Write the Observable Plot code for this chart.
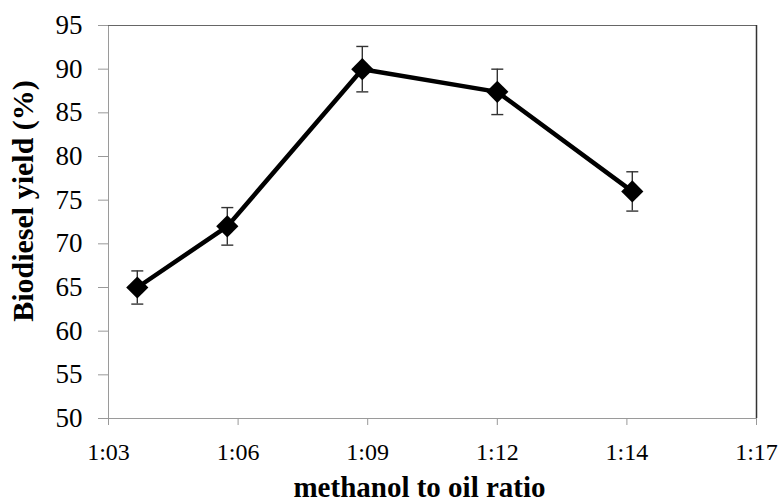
<!DOCTYPE html>
<html>
<head>
<meta charset="utf-8">
<script src="https://cdn.jsdelivr.net/npm/d3@7"></script>
<script src="https://cdn.jsdelivr.net/npm/@observablehq/plot@0.6"></script>
<style>
  html, body { margin: 0; padding: 0; background: white; }
  svg text { font-family: "Liberation Serif", "Times New Roman", serif; }
</style>
</head>
<body>
<div id="chart"></div>
<script>
// Methanol-to-oil ratio stored as Excel-style time values (minutes)
const ratioMinutes = [64, 66, 69, 72, 75];
const yieldPct = [65, 72, 90, 87.4, 76];
const yieldErr = [1.9, 2.15, 2.6, 2.6, 2.25];

const xTickMinutes = [63.36, 66.24, 69.12, 72.0, 74.88, 77.76];
const xTickLabels = ["1:03", "1:06", "1:09", "1:12", "1:14", "1:17"];
const yTicks = [50, 55, 60, 65, 70, 75, 80, 85, 90, 95];

const xTitle = "methanol to oil ratio";
const yTitle = "Biodiesel yield (%)";

const serif = "'Liberation Serif', 'Times New Roman', serif";

const data = ratioMinutes.map((x, i) => ({
  x, y: yieldPct[i], lo: yieldPct[i] - yieldErr[i], hi: yieldPct[i] + yieldErr[i]
}));

const capSymbol = {
  draw(context) {
    context.moveTo(-6, 0);
    context.lineTo(6, 0);
  }
};

const chart = Plot.plot({
  width: 779,
  height: 502,
  marginLeft: 108,
  marginRight: 23,
  marginTop: 25,
  marginBottom: 84,
  style: { fontFamily: serif, background: "white", color: "black" },
  x: { type: "linear", domain: [xTickMinutes[0], xTickMinutes[xTickMinutes.length - 1]] },
  y: { domain: [50, 95] },
  marks: [
    Plot.frame({ stroke: "#9a9a9a" }),
    Plot.ruleY([95], { stroke: "#666" }),
    Plot.ruleX([xTickMinutes[xTickMinutes.length - 1]], { stroke: "#333", strokeWidth: 1.5 }),
    Plot.axisY({
      ticks: yTicks, tickSize: 10, tickPadding: 16, fontSize: 27, fontFamily: serif,
      stroke: "#999", fill: "black", label: null
    }),
    Plot.axisX({
      ticks: xTickMinutes, tickSize: 7, tickPadding: 17, fontSize: 24, fontFamily: serif,
      tickFormat: d => xTickLabels[xTickMinutes.indexOf(d)],
      stroke: "#999", fill: "black", label: null
    }),
    Plot.ruleX(data, { x: "x", y1: "lo", y2: "hi", stroke: "#333", strokeWidth: 1.4 }),
    Plot.line(data, { x: "x", y: "y", stroke: "black", strokeWidth: 4.5 }),
    Plot.dot(data, { x: "x", y: "y", symbol: "diamond2", r: 10, fill: "black", stroke: "none" }),
    Plot.dot(data, { x: "x", y: "hi", symbol: capSymbol, stroke: "#333", strokeWidth: 1.4, fill: "none" }),
    Plot.dot(data, { x: "x", y: "lo", symbol: capSymbol, stroke: "#333", strokeWidth: 1.4, fill: "none" }),
    Plot.text([yTitle], {
      frameAnchor: "left", textAnchor: "middle", lineAnchor: "middle", rotate: -90, dx: -85, dy: -21,
      fontSize: 30, fontWeight: "bold", fontFamily: serif, fill: "black"
    }),
    Plot.text([xTitle], {
      frameAnchor: "bottom", textAnchor: "middle", lineAnchor: "middle", dx: -13, dy: 69,
      fontSize: 29, fontWeight: "bold", fontFamily: serif, fill: "black"
    })
  ]
});

document.getElementById("chart").appendChild(chart);
</script>
</body>
</html>
